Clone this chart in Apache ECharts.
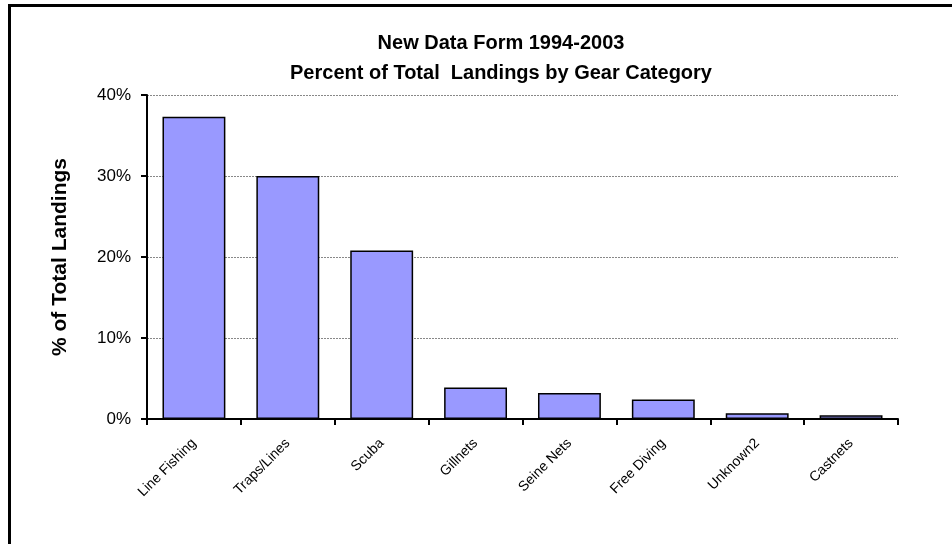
<!DOCTYPE html>
<html>
<head>
<meta charset="utf-8">
<script src="https://cdn.jsdelivr.net/npm/echarts@6/dist/echarts.min.js"></script>
<style>
html,body{margin:0;padding:0;background:#fff;}
#c{width:952px;height:544px;}
</style>
</head>
<body>
<div id="c"></div>
<script>
const titleLines = ['New Data Form 1994-2003', 'Percent of Total  Landings by Gear Category'];
const categories = ['Line Fishing', 'Traps/Lines', 'Scuba', 'Gillnets', 'Seine Nets', 'Free Diving', 'Unknown2', 'Castnets'];
const percentValues = [37.3, 30.0, 20.8, 3.9, 3.2, 2.4, 0.7, 0.45];
const yTicks = [0, 10, 20, 30, 40];
const yAxisName = '% of Total Landings';

const chart = echarts.init(document.getElementById('c'));
chart.setOption({
  animation: false,
  backgroundColor: '#fff',
  title: {
    text: titleLines.join('\n'),
    left: 496, top: 23, textAlign: 'center',
    textStyle: {fontFamily: 'Liberation Sans, Arial', fontSize: 20, fontWeight: 'bold', color: '#000', lineHeight: 30}
  },
  graphic: [{
    type: 'rect', silent: true, z: 100,
    shape: {x: 9.5, y: 5.5, width: 1200, height: 800},
    style: {fill: 'none', stroke: '#000', lineWidth: 3}
  }],
  grid: {left: 147, top: 95, right: 54, bottom: 125},
  xAxis: {
    type: 'category', data: categories,
    axisLine: {lineStyle: {color: '#000', width: 2}},
    axisTick: {show: true, length: 6, lineStyle: {color: '#000', width: 2}},
    axisLabel: {rotate: 45, margin: 22, fontFamily: 'Liberation Sans, Arial', fontSize: 14, color: '#000'}
  },
  yAxis: {
    type: 'value', min: yTicks[0], max: yTicks[yTicks.length - 1], interval: 10,
    name: yAxisName, nameLocation: 'middle', nameGap: 76, nameRotate: 90,
    nameTextStyle: {fontFamily: 'Liberation Sans, Arial', fontSize: 21, fontWeight: 'bold', color: '#000'},
    axisLine: {show: true, lineStyle: {color: '#000', width: 2}},
    axisTick: {show: true, length: 6, lineStyle: {color: '#000', width: 2}},
    axisLabel: {formatter: '{value}%', margin: 16, fontFamily: 'Liberation Sans, Arial', fontSize: 17, color: '#000'},
    splitLine: {lineStyle: {color: '#888', type: [2, 1], width: 1}}
  },
  series: [{
    type: 'bar', data: percentValues, barCategoryGap: '33%',
    itemStyle: {color: '#9999FF', borderColor: '#000', borderWidth: 1.5}
  }]
});
</script>
</body>
</html>
